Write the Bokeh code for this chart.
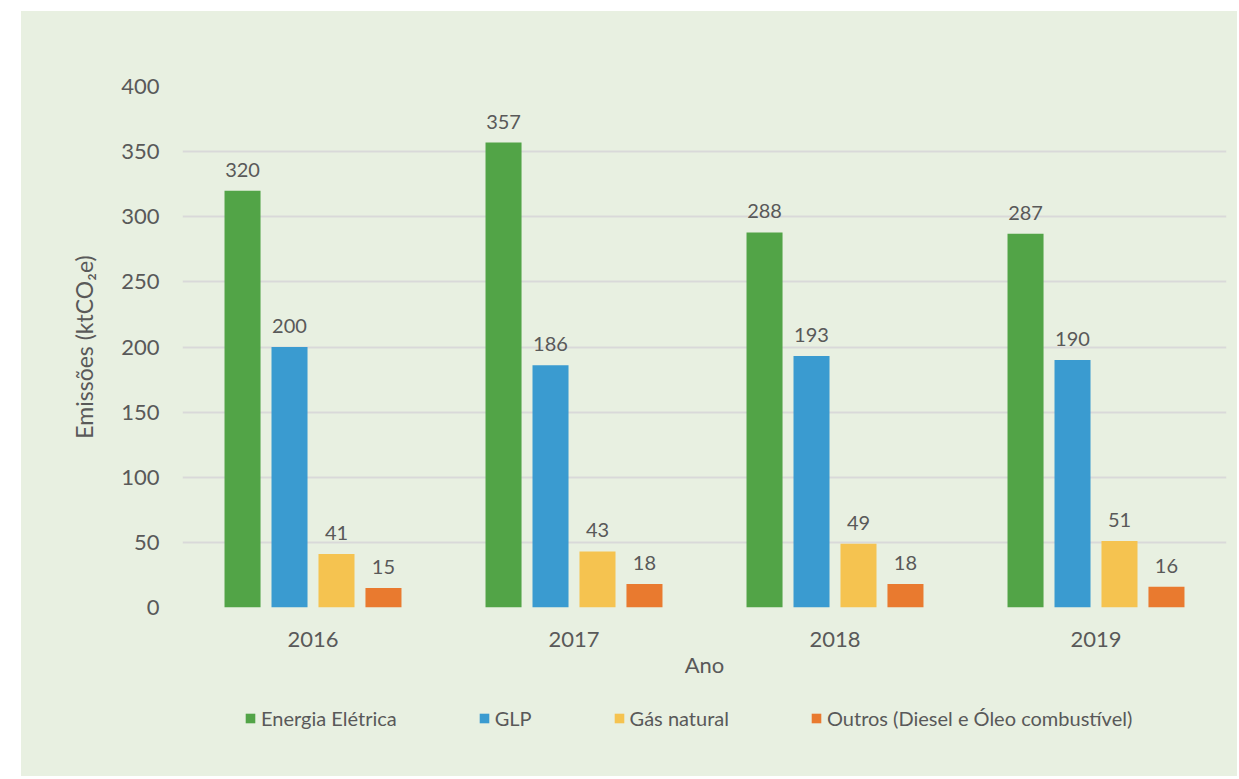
from bokeh.plotting import figure
from bokeh.models import ColumnDataSource, Legend, LegendItem, Spacer, FactorRange
from bokeh.transform import dodge
from bokeh.layouts import column, row
from bokeh.embed import file_html
from bokeh.resources import INLINE

years = ["2016", "2017", "2018", "2019"]
energia = [320, 357, 288, 287]
glp = [200, 186, 193, 190]
gas = [41, 43, 49, 51]
outros = [15, 18, 18, 16]
series_names = ["Energia Elétrica", "GLP", "Gás natural", "Outros (Diesel e Óleo combustível)"]
y_ticks = [0, 50, 100, 150, 200, 250, 300, 350, 400]

colors = ["#52A447", "#3A9BD0", "#F5C350", "#E97A2F"]
BG = "#E8F0E1"
TXT = "#595959"
FONT = "Lato"

src = ColumnDataSource(dict(year=years, energia=energia, glp=glp, gas=gas, outros=outros,
                            energia_t=[str(v) for v in energia], glp_t=[str(v) for v in glp],
                            gas_t=[str(v) for v in gas], outros_t=[str(v) for v in outros]))

p = figure(x_range=FactorRange(*years, range_padding=0), y_range=(0, 400),
           width=1216, height=680, output_backend="svg", toolbar_location=None,
           background_fill_color=BG, border_fill_color=BG, outline_line_color=None,
           min_border_left=161, min_border_right=11, min_border_top=75, min_border_bottom=84)

offsets = [-0.27, -0.09, 0.09, 0.27]
keys = ["energia", "glp", "gas", "outros"]
for k, off, c in zip(keys, offsets, colors):
    p.vbar(x=dodge("year", off, range=p.x_range), top=k, width=0.138, bottom=0,
           source=src, fill_color=c, line_color=None)
    p.text(x=dodge("year", off, range=p.x_range), y=k, text=k + "_t", source=src,
           text_align="center", text_baseline="alphabetic", y_offset=-21,
           text_font=dict(value=FONT), text_font_size="20px", text_color=TXT)

p.yaxis.ticker = y_ticks
p.ygrid.grid_line_color = "#D9D9D9"
p.ygrid.grid_line_width = 2
p.xgrid.grid_line_color = None

for ax in (p.xaxis, p.yaxis):
    ax.axis_line_color = None
    ax.major_tick_line_color = None
    ax.minor_tick_line_color = None
    ax.major_tick_out = 0
    ax.major_label_text_font = FONT
    ax.major_label_text_font_size = "22px"
    ax.major_label_text_color = TXT
    ax.axis_label_text_font = FONT
    ax.axis_label_text_font_size = "22px"
    ax.axis_label_text_font_style = "normal"
    ax.axis_label_text_color = TXT

p.yaxis.major_label_standoff = 23
p.yaxis.axis_label = "Emissões (ktCO₂e)"
p.yaxis.axis_label_text_font_size = "23px"
p.yaxis.axis_label_standoff = 20
p.xaxis.major_label_standoff = 24
p.xaxis.axis_label = "Ano"
p.xaxis.axis_label_standoff = 1

# legend strip below the chart
lf = figure(width=1216, height=85, output_backend="svg", toolbar_location=None,
            x_axis_location=None, y_axis_location=None, x_range=(0, 1), y_range=(0, 1),
            background_fill_color=BG, border_fill_color=BG, outline_line_color=None,
            min_border_left=161, min_border_right=11, min_border_top=0, min_border_bottom=0)
lf.grid.visible = False
hidden = ColumnDataSource(dict(x=[-5], top=[-4]))
leg_renderers = [lf.vbar(x="x", top="top", bottom=-5, width=0.1, source=hidden,
                         fill_color=c, line_color=None) for c in colors]

legend = Legend(items=[LegendItem(label=n, renderers=[r]) for n, r in zip(series_names, leg_renderers)],
                orientation="horizontal", location=(62, 46), spacing=81,
                glyph_width=12, glyph_height=12, label_standoff=5, label_height=20,
                label_text_font=FONT, label_text_font_size="20px", label_text_color=TXT,
                background_fill_alpha=0, border_line_color=None, margin=0, padding=10)
lf.add_layout(legend)

inner = column(p, lf, styles={"background-color": BG})
layout = column(Spacer(height=11), row(Spacer(width=21), inner))
open("out.html", "w").write(file_html(layout, INLINE))
